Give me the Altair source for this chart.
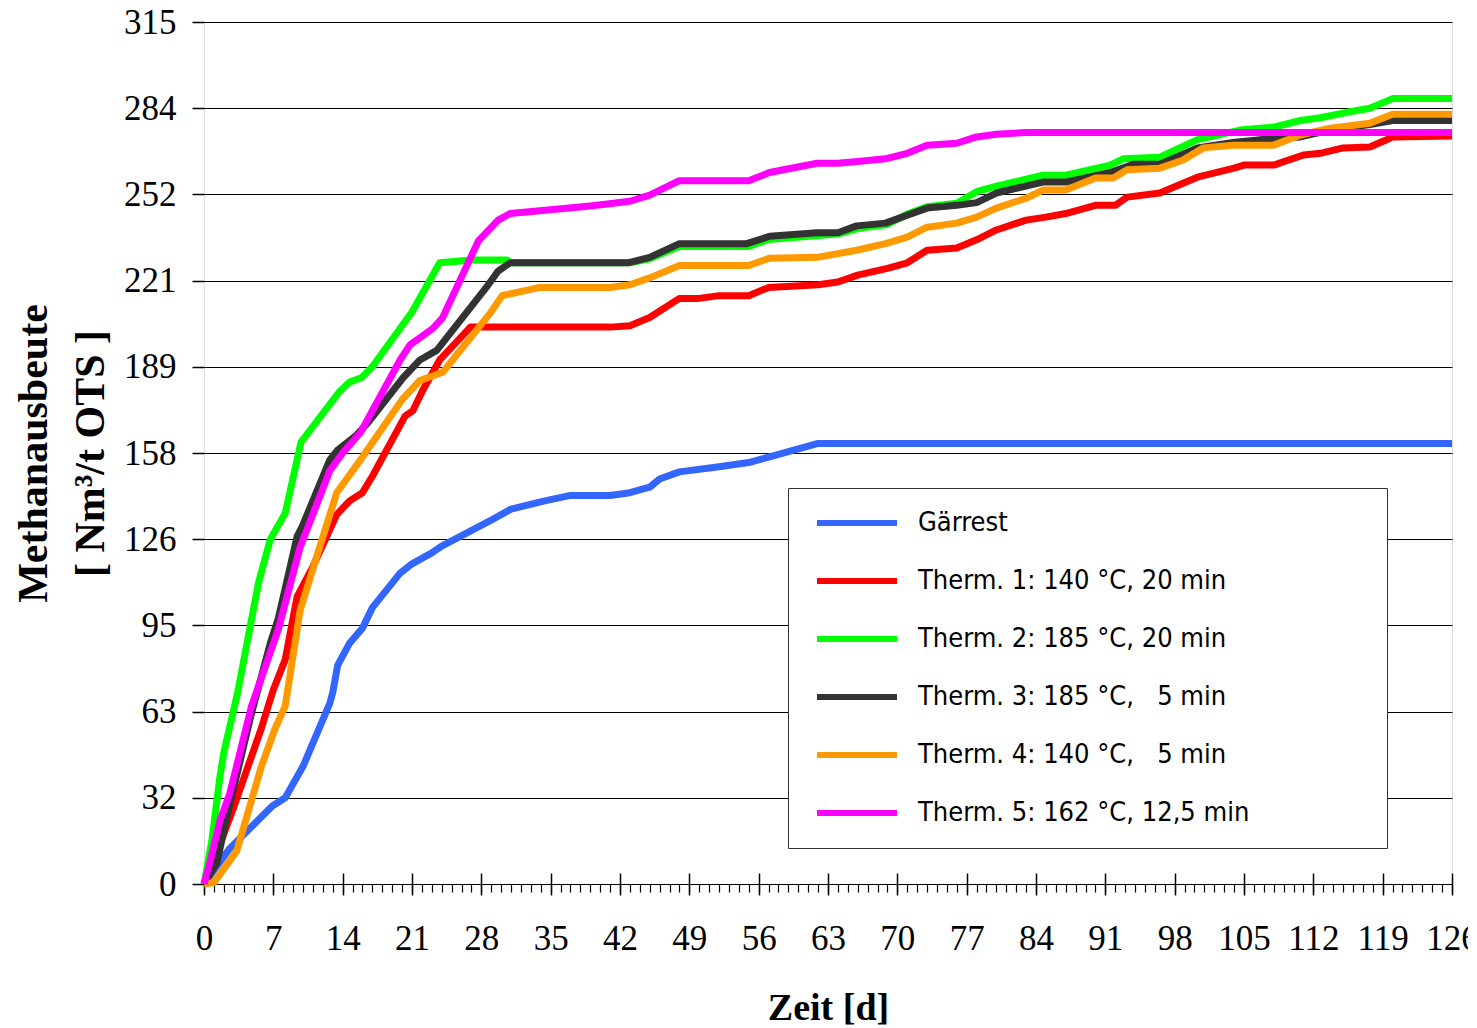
import altair as alt
import pandas as pd

# ---------------- data ----------------
SERIES = [
    "Gärrest",
    "Therm. 1: 140 °C, 20 min",
    "Therm. 2: 185 °C, 20 min",
    "Therm. 3: 185 °C,\u00a0\u00a0\u00a05 min",
    "Therm. 4: 140 °C,\u00a0\u00a0\u00a05 min",
    "Therm. 5: 162 °C, 12,5 min",
]
COLORS = ["#3366FF", "#FF0000", "#00FF00", "#333333", "#FF9900", "#FF00FF"]

gaer_days = [0, 2.6, 6.9, 8.2, 10, 12.7, 13, 13.5, 14.7, 16, 17, 19.8, 21, 23, 24, 29, 31, 34.4, 37,
             41, 43, 45, 46, 48, 52, 55, 57, 62, 126]
gaer_vals = [0, 13, 28.5, 31.5, 43, 66, 70, 80, 88, 93.5, 101, 113.6, 117, 121, 123.5, 133, 137, 140, 142,
             142, 143, 145, 148, 150.6, 152.5, 154, 156, 161, 161]

t1_days = [0, 0.9, 2.9, 5.8, 7, 8.2, 9.4, 11, 13.4, 14.7, 16, 17, 20.3, 21.1, 22.1, 23.8, 26.9, 41, 43,
           45, 48, 50, 52, 55, 57, 62, 64, 66, 69, 71, 73, 76, 78, 80, 83, 85, 87, 90, 92, 93.2, 96.5,
           100.3, 104, 105, 108, 111, 112.7, 115, 117.7, 119.4, 120, 126]
t1_vals = [0, 7.7, 27, 57, 71, 82, 105, 116, 135, 140, 143, 149, 171, 173, 180.5, 191.5, 203.5, 203.5, 204,
           207, 214, 214, 215, 215, 218, 219, 220, 222.5, 225, 227, 231.6, 232.4, 235.4, 239, 242.6, 243.7,
           245, 248, 248, 251, 252.5, 258.3, 261.6, 262.7, 262.7, 266.4, 267, 269, 269.3, 272, 273, 273.3]

t2_days = [0, 0.8, 1.6, 2, 3.4, 5.5, 6.7, 8.2, 9.8, 13.7, 14.7, 15.9, 17, 21, 23.8, 27, 30.6, 31, 43,
           45, 48, 55, 57, 62, 64, 66, 69, 71, 73, 76, 78, 80, 84.7, 87, 91.5, 92.8, 96.5, 100.3,
           104.6, 108, 110.7, 112.7, 115.4, 117.7, 120, 126]
t2_vals = [0, 16, 39, 48, 70, 110, 126, 135.5, 161.5, 180, 183.4, 185, 189, 209, 227, 228, 228, 227, 227,
           228.5, 233, 233, 235.5, 237, 237.5, 239.5, 241, 244.8, 247.5, 248.8, 253, 255, 259, 259, 262.7,
           265, 265.6, 272, 275.5, 276.6, 279, 280, 282, 283.5, 287, 287]

t3_days = [0, 1.3, 2.3, 4.8, 6.7, 7.5, 9.4, 9.9, 12.7, 13.5, 15.4, 16.6, 20.1, 21.8, 23.5, 26.1, 28.5,
           29.7, 30.9, 42.8, 45, 48, 54.8, 57.1, 61.9, 64, 65.9, 68.8, 71, 73, 76, 78, 80, 84.7, 87,
           91.5, 93.8, 96.5, 100.3, 103.9, 108, 110.7, 113.7, 117.7, 120, 126]
t3_vals = [0, 7.7, 24.5, 62.5, 88, 97, 127, 130.5, 155, 158.6, 164, 168.8, 185, 191.5, 195, 207, 218,
           224, 227, 227, 229, 234, 234, 236.7, 238, 238, 240.5, 241.5, 244.4, 247, 248, 249, 252.5,
           256.5, 256.5, 260, 263, 263, 269, 271, 272.5, 273, 275.5, 277.5, 279, 279]

t4_days = [0, 1, 3.3, 5.8, 7.2, 8.2, 9.7, 11.5, 13.4, 14.4, 16, 20, 21.8, 24.1, 28.9, 30.1, 33.9, 41,
           43, 45, 48, 55, 57.1, 61.9, 65.9, 68.8, 71, 73, 76, 78, 80, 83, 84.7, 87, 90, 91.8, 93.2,
           96.5, 98.8, 100.9, 103.9, 108, 110.7, 113.7, 117.7, 120, 126]
t4_vals = [0, 0.5, 12, 43, 57, 65, 100, 121, 143, 148, 156, 177, 184, 187, 208.6, 215, 218, 218,
           219, 221.5, 226, 226, 228.7, 229, 231.6, 234, 236.4, 240, 241.5, 243.7, 247, 250.6, 253.6,
           253.6, 258, 258, 261, 261.6, 264.5, 269, 270, 270, 273.7, 276.2, 278, 281.3, 281.3]

t5_days = [0, 0.6, 1.6, 2.6, 4.8, 7.5, 9.7, 12.7, 14, 15.8, 19.8, 20.8, 23.1, 24.1, 27.7, 29.7, 30.9,
           33.9, 39, 43, 45, 48, 55, 57.1, 61.9, 64, 66, 68.8, 71, 73, 76, 78, 80, 83, 126]
t5_vals = [0, 8, 23, 33, 65, 93, 123, 151, 157.5, 165, 191.5, 197, 203, 207, 235, 242.6, 245,
           246, 247.8, 249.5, 251.7, 257, 257, 260, 263.4, 263.4, 264, 265, 267, 270, 270.7, 273, 274,
           274.6, 274.6]

X_TICKS = list(range(0, 127, 7))
X_MINOR = list(range(0, 127))
Y_TICKS = [0, 31.5, 63, 94.5, 126, 157.5, 189, 220.5, 252, 283.5, 315]

all_days = [gaer_days, t1_days, t2_days, t3_days, t4_days, t5_days]
all_vals = [gaer_vals, t1_vals, t2_vals, t3_vals, t4_vals, t5_vals]

rows = []
for s_i, (name, ds, vs) in enumerate(zip(SERIES, all_days, all_vals)):
    for d, v in zip(ds, vs):
        rows.append({"series": name, "day": d, "value": v, "o": s_i})
df = pd.DataFrame(rows)

SERIF = "Liberation Serif"
NARROW = "Liberation Sans Narrow, Arial Narrow, DejaVu Sans Condensed, sans-serif"

x_scale = alt.Scale(domain=[0, 126], nice=False, zero=False)
y_scale = alt.Scale(domain=[0, 315], nice=False)

# legend box widening: non-breaking spaces kept by a trailing zero-width space
PAD = "\u00a0" * 16 + "\u200b"

lines = alt.Chart(df).mark_line(strokeWidth=7, strokeJoin="round").encode(
    x=alt.X("day:Q", scale=x_scale,
            axis=alt.Axis(values=X_TICKS, orient="bottom", offset=-11, tickSize=22,
                          tickColor="black", tickWidth=1.5, domain=False, grid=False,
                          labelFont=SERIF, labelFontSize=35, labelColor="black",
                          labelPadding=26, labelFlush=False, labelOverlap=False,
                          title="Zeit [d]", titleFont=SERIF, titleFontSize=38,
                          titleFontWeight="bold", titleColor="black",
                          titleBaseline="alphabetic", titleY=146)),
    y=alt.Y("value:Q", scale=y_scale,
            axis=alt.Axis(values=Y_TICKS, labelExpr="round(datum.value)", grid=True,
                          gridColor="black", gridWidth=1.2, gridOpacity=1,
                          tickSize=12, tickColor="black", tickWidth=1.5, domain=False,
                          labelFont=SERIF, labelFontSize=35, labelColor="black",
                          labelPadding=16, labelFlush=False, labelOverlap=False,
                          title=["Methanausbeute", "[ Nm³/t OTS ]"], titleFont=SERIF,
                          titleFontSize=42, titleFontWeight="bold", titleColor="black",
                          titleLineHeight=57, titleAngle=270, titleAlign="center",
                          titleBaseline="middle", titleX=-171, titleY=431)),
    color=alt.Color("series:N", sort=SERIES,
                    scale=alt.Scale(domain=SERIES, range=COLORS),
                    legend=alt.Legend(orient="none", legendX=584, legendY=466, title=None,
                                      symbolType="stroke", symbolSize=6400,
                                      symbolStrokeWidth=6, symbolOffset=12,
                                      padding=14, labelOffset=18, clipHeight=42,
                                      rowPadding=16, labelFont=NARROW, labelFontSize=27,
                                      labelColor="black", labelLimit=900,
                                      labelExpr="datum.label + '" + PAD + "'",
                                      fillColor="white", strokeColor="#333333",
                                      labelBaseline="middle")),
    order=alt.Order("o:Q"),
)

minor = alt.Chart(pd.DataFrame({"day": X_MINOR})).mark_point(opacity=0).encode(
    x=alt.X("day:Q", scale=x_scale,
            axis=alt.Axis(values=X_MINOR, orient="bottom", tickSize=8, tickColor="black",
                          tickWidth=1.2, domain=False, grid=False, labels=False, title=None)),
)

chart = alt.layer(minor, lines).resolve_axis(x="independent").properties(
    width=1248, height=862,
    autosize=alt.AutoSizeParams(type="none"),
    padding={"left": 196, "top": 14, "right": 16, "bottom": 142},
).configure_view(stroke="black", strokeWidth=3).configure(background="white")

chart.save("out.html", embed_options={"renderer": "svg", "actions": False})
